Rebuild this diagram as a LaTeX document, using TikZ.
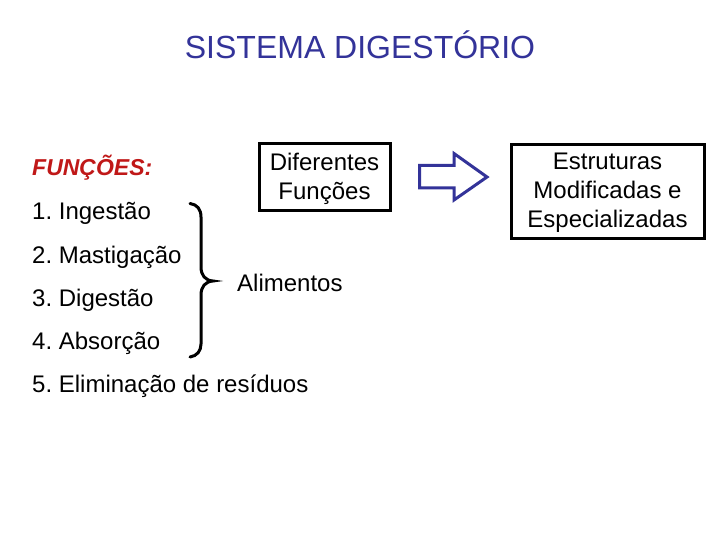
\documentclass[tikz,border=0pt]{standalone}
\usepackage{fontspec}
\setmainfont{Liberation Sans}
\frenchspacing
\definecolor{navy}{RGB}{51,51,153}
\definecolor{darkred}{RGB}{192,24,24}
\begin{document}
\begin{tikzpicture}[x=1pt,y=-1pt,
  txt/.style={font=\fontsize{24}{28.8}\selectfont, inner sep=0pt, anchor=base west},
  boxed/.style={draw=black, line width=3pt, inner sep=0pt},
  boxtxt/.style={font=\fontsize{24}{29}\selectfont, align=center, inner sep=0pt},
  bracestyle/.style={draw=black, line width=3pt, line cap=round},
  blockarrow/.style={draw=navy, line width=3pt, line join=miter}]
\useasboundingbox[fill=white] (0,0) rectangle (720,540);
% title
\node[font=\fontsize{32}{38}\selectfont, text=navy, inner sep=0pt, anchor=base] (title) at (360,59) {SISTEMA DIGESTÓRIO};
% left list
\node[txt, font=\fontsize{23}{28}\selectfont\bfseries\itshape, text=darkred] (func) at (32,176) {FUNÇÕES:};
\node[txt] (i1) at (32,220) {1. Ingestão};
\node[txt] (i2) at (32,263) {2. Mastigação};
\node[txt] (i3) at (32,306) {3. Digestão};
\node[txt] (i4) at (32,349) {4. Absorção};
\node[txt] (i5) at (32,392) {5. Eliminação de resíduos};
\node[txt] (alim) at (237,291) {Alimentos};
% boxes
\node[boxed, minimum width=131.5pt, minimum height=66.5pt] (dif) at (324.75,177.25) {};
\node[boxtxt] (diftxt) at (324.5,178.5) {Diferentes\\Funções};
\node[boxed, minimum width=193pt, minimum height=93.5pt] (est) at (607.5,191.75) {};
\node[boxtxt] (esttxt) at (607.5,193) {Estruturas\\Modificadas e\\Especializadas};
% block arrow
\coordinate (a0) at (419.5,165.5);
\draw[blockarrow] (a0) -- (454,165.5) -- (454,153.5) -- (487,177) -- (454,200) -- (454,188) -- (419.5,188) -- cycle;
% brace
\coordinate (bt) at (190,203.5);
\coordinate (bm) at (213,281);
\coordinate (bb) at (190,357);
\draw[bracestyle] (bt) .. controls (197,204.5) and (201,209) .. (201,217) -- (201,267)
  .. controls (201,275) and (205,280.5) .. (bm)
  .. controls (205,281.5) and (201,287) .. (201,295) -- (201,344)
  .. controls (201,351) and (197,356) .. (bb);
\end{tikzpicture}
\end{document}
